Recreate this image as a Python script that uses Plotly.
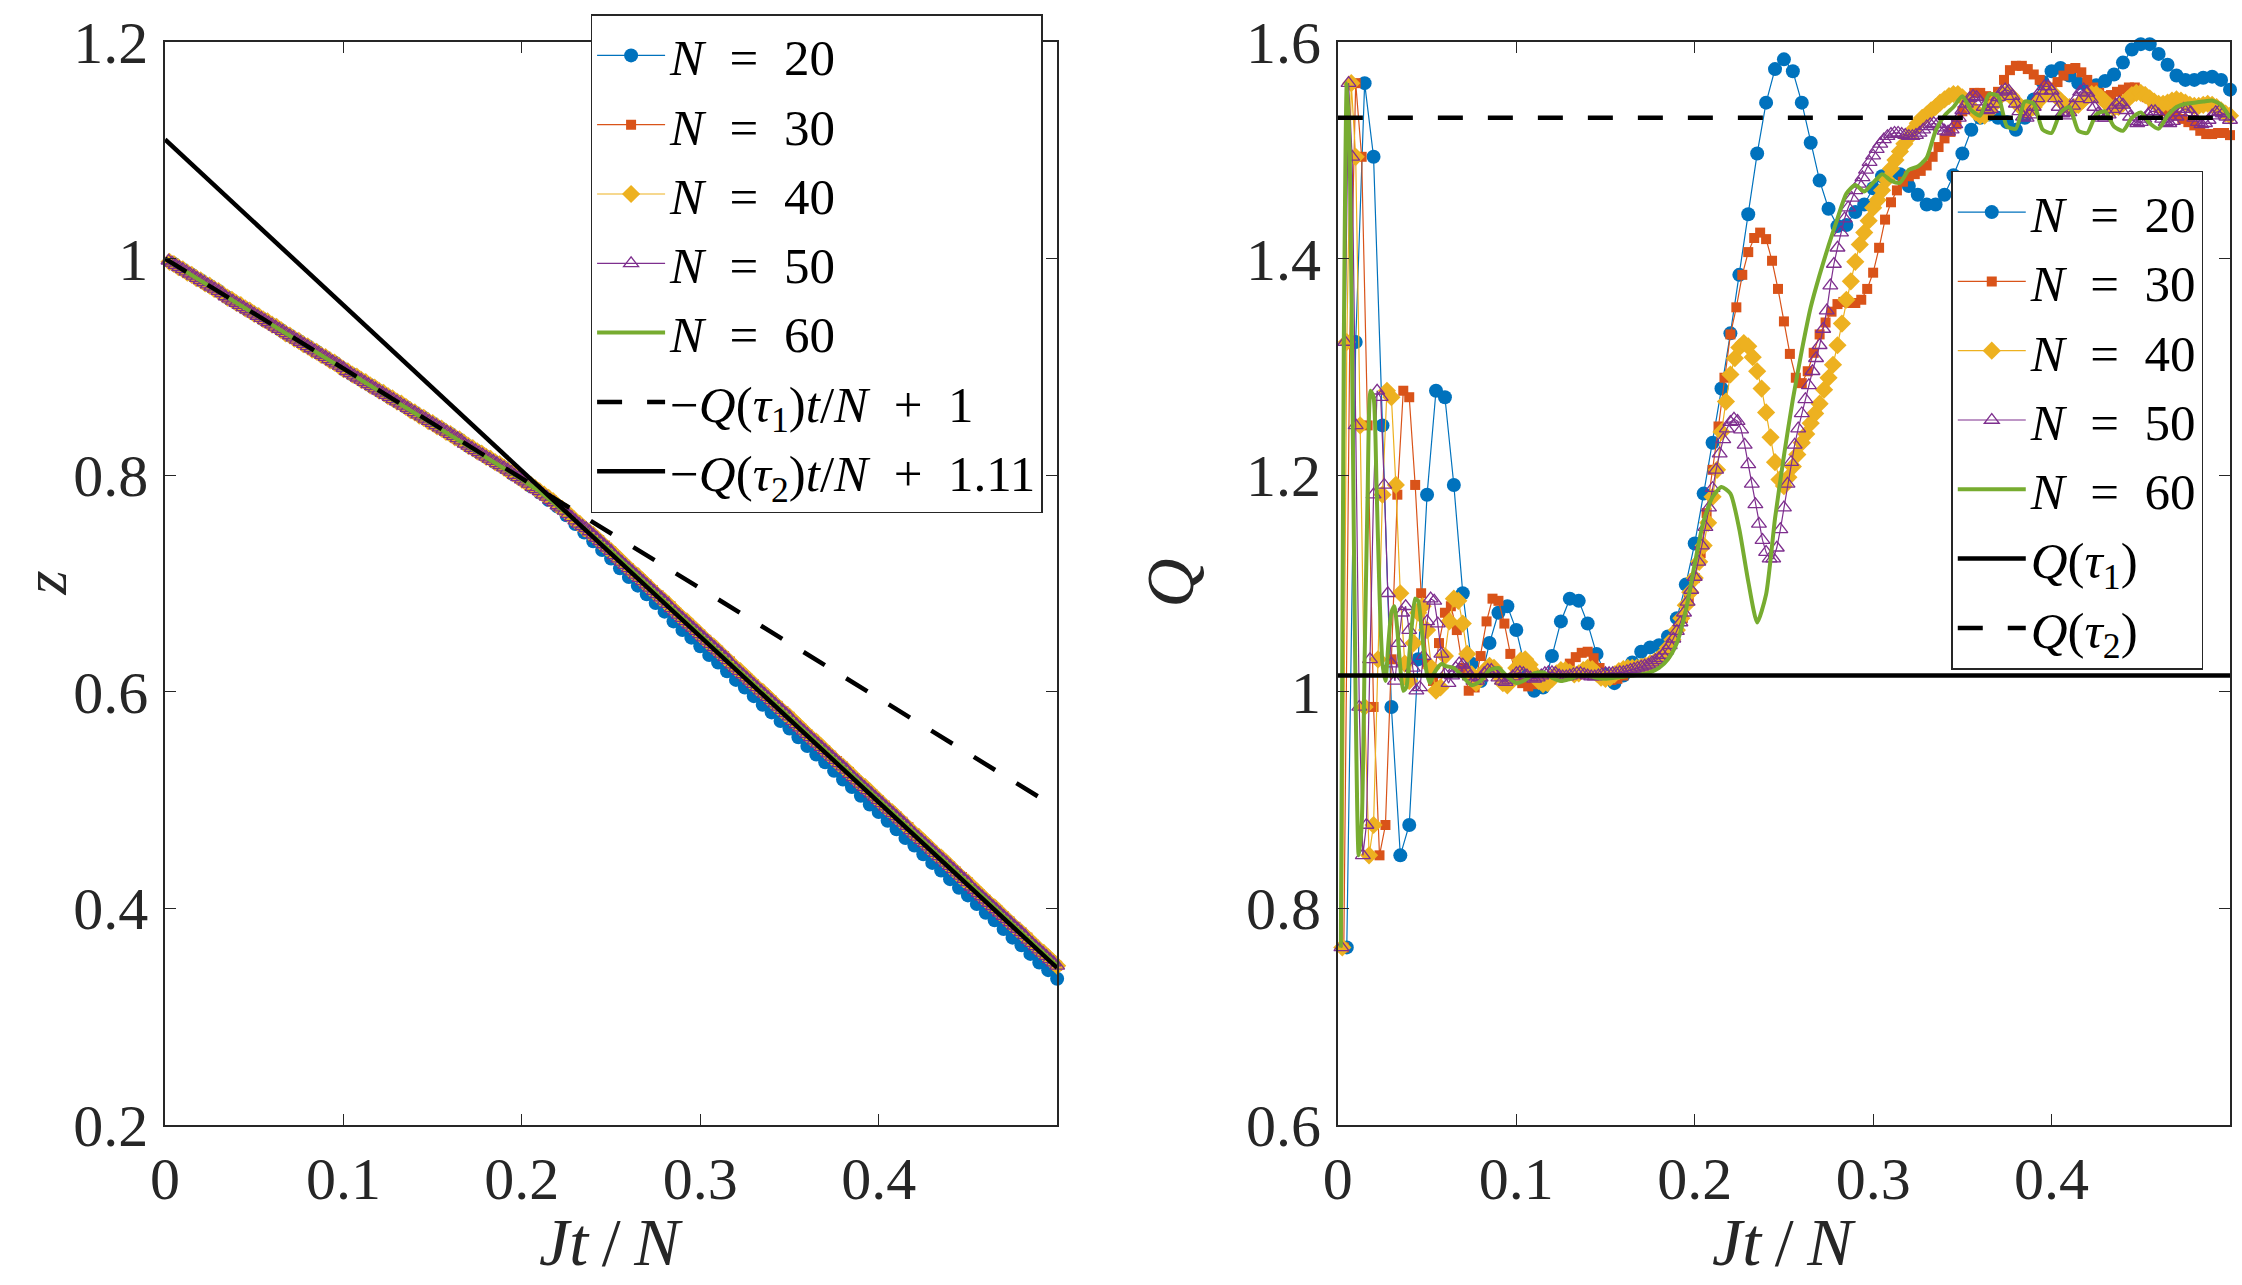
import numpy as np
import plotly.graph_objects as go

# ---------------- data ----------------
N_VALUES = [20, 30, 40, 50, 60]
X_STEP = {20: 0.005, 30: 1 / 300, 40: 0.0025, 50: 0.002}

# Q(Jt/N) for each N (right panel)
q20 = [0.764,1.323,1.562,1.494,1.246,0.986,0.849,0.877,1.030,1.182,
       1.278,1.272,1.191,1.091,1.026,1.010,1.045,1.073,1.079,1.057,
       1.022,1.001,1.004,1.033,1.065,1.086,1.084,1.063,1.035,1.016,
       1.008,1.015,1.027,1.037,1.041,1.043,1.051,1.068,1.099,1.137,
       1.183,1.230,1.280,1.331,1.385,1.441,1.497,1.544,1.575,1.584,
       1.573,1.544,1.507,1.472,1.446,1.430,1.431,1.443,1.450,1.465,
       1.476,1.478,1.478,1.467,1.459,1.450,1.450,1.459,1.477,1.497,
       1.519,1.530,1.533,1.530,1.526,1.519,1.530,1.547,1.563,1.573,
       1.576,1.569,1.562,1.559,1.560,1.564,1.570,1.581,1.593,1.598,
       1.598,1.589,1.579,1.569,1.565,1.565,1.567,1.568,1.565,1.556]

q30 = [0.764,1.323,1.562,1.494,1.246,0.986,0.849,0.877,1.030,1.182,
       1.278,1.272,1.191,1.091,1.026,1.010,1.045,1.073,1.079,1.057,
       1.022,1.001,1.004,1.033,1.065,1.086,1.084,1.063,1.035,1.016,
       1.008,1.005,1.007,1.010,1.012,1.015,1.017,1.020,1.026,1.032,
       1.036,1.037,1.031,1.022,1.014,1.011,1.012,1.015,1.019,1.022,
       1.024,1.026,1.028,1.031,1.036,1.045,1.057,1.068,1.085,1.105,
       1.128,1.165,1.205,1.245,1.290,1.330,1.355,1.385,1.406,1.419,
       1.424,1.418,1.398,1.372,1.342,1.312,1.290,1.285,1.296,1.313,
       1.330,1.341,1.351,1.358,1.360,1.359,1.359,1.362,1.372,1.387,
       1.410,1.436,1.452,1.463,1.471,1.476,1.478,1.481,1.486,1.494,
       1.503,1.511,1.517,1.524,1.536,1.547,1.553,1.553,1.550,1.549,
       1.554,1.565,1.574,1.578,1.578,1.575,1.570,1.565,1.559,1.558,
       1.563,1.569,1.575,1.576,1.572,1.565,1.558,1.553,1.550,1.551,
       1.554,1.556,1.558,1.558,1.554,1.549,1.543,1.539,1.536,1.534,
       1.532,1.529,1.526,1.523,1.518,1.515,1.515,1.516,1.516,1.514]

q40 = [0.764,1.323,1.562,1.494,1.246,0.986,0.849,0.877,1.030,1.182,
       1.278,1.272,1.191,1.091,1.026,1.010,1.045,1.073,1.079,1.057,
       1.022,1.001,1.004,1.033,1.065,1.086,1.084,1.063,1.035,1.016,
       1.008,1.015,1.020,1.024,1.022,1.015,1.008,1.006,1.012,1.022,
       1.029,1.030,1.025,1.017,1.010,1.007,1.008,1.012,1.017,1.020,
       1.020,1.018,1.016,1.017,1.020,1.022,1.021,1.017,1.013,1.012,
       1.013,1.016,1.019,1.021,1.022,1.022,1.022,1.023,1.024,1.026,
       1.028,1.031,1.035,1.041,1.048,1.057,1.068,1.080,1.092,1.105,
       1.120,1.135,1.156,1.180,1.205,1.240,1.268,1.293,1.308,1.318,
       1.322,1.319,1.309,1.296,1.280,1.258,1.235,1.212,1.196,1.190,
       1.198,1.208,1.219,1.230,1.238,1.248,1.257,1.266,1.279,1.290,
       1.302,1.320,1.340,1.362,1.379,1.397,1.413,1.424,1.435,1.447,
       1.454,1.463,1.473,1.483,1.491,1.499,1.506,1.512,1.519,1.525,
       1.530,1.533,1.537,1.540,1.544,1.547,1.550,1.552,1.552,1.549,
       1.545,1.540,1.535,1.532,1.532,1.536,1.542,1.548,1.552,1.553,
       1.550,1.545,1.540,1.537,1.537,1.540,1.545,1.550,1.553,1.553,
       1.550,1.546,1.542,1.540,1.540,1.542,1.546,1.550,1.552,1.552,
       1.549,1.545,1.541,1.539,1.540,1.543,1.547,1.551,1.553,1.553,
       1.551,1.548,1.545,1.543,1.543,1.544,1.546,1.547,1.546,1.544,
       1.542,1.541,1.541,1.542,1.543,1.542,1.540,1.537,1.534,1.532]

q50 = [0.764,1.323,1.562,1.494,1.246,0.986,0.849,0.877,1.030,1.182,
       1.278,1.272,1.191,1.091,1.026,1.010,1.045,1.073,1.079,1.057,
       1.022,1.001,1.004,1.033,1.065,1.086,1.084,1.063,1.035,1.016,
       1.008,1.015,1.022,1.026,1.025,1.020,1.014,1.010,1.010,1.013,
       1.017,1.020,1.020,1.017,1.013,1.010,1.009,1.011,1.014,1.017,
       1.018,1.017,1.015,1.013,1.012,1.013,1.015,1.017,1.018,1.018,
       1.017,1.015,1.014,1.014,1.015,1.016,1.017,1.017,1.016,1.015,
       1.014,1.014,1.015,1.016,1.017,1.017,1.017,1.017,1.018,1.018,
       1.019,1.020,1.021,1.022,1.023,1.024,1.025,1.027,1.029,1.031,
       1.034,1.038,1.043,1.049,1.056,1.064,1.073,1.083,1.094,1.106,
       1.120,1.135,1.152,1.170,1.188,1.205,1.220,1.233,1.243,1.249,
       1.252,1.250,1.242,1.228,1.210,1.192,1.173,1.155,1.140,1.129,
       1.123,1.123,1.133,1.150,1.170,1.192,1.212,1.228,1.243,1.257,
       1.270,1.283,1.296,1.308,1.320,1.335,1.352,1.375,1.395,1.410,
       1.424,1.437,1.447,1.456,1.463,1.469,1.475,1.482,1.489,1.495,
       1.501,1.506,1.510,1.513,1.515,1.516,1.516,1.515,1.514,1.513,
       1.513,1.514,1.516,1.519,1.522,1.524,1.525,1.524,1.521,1.518,
       1.517,1.519,1.524,1.530,1.537,1.543,1.548,1.550,1.549,1.545,
       1.540,1.537,1.538,1.543,1.549,1.554,1.556,1.555,1.550,1.543,
       1.536,1.531,1.530,1.533,1.540,1.548,1.555,1.559,1.559,1.555,
       1.548,1.540,1.534,1.532,1.535,1.541,1.548,1.554,1.556,1.553,
       1.547,1.540,1.534,1.530,1.530,1.533,1.538,1.542,1.544,1.542,
       1.537,1.531,1.527,1.525,1.526,1.529,1.533,1.536,1.536,1.533,
       1.529,1.526,1.525,1.527,1.531,1.535,1.538,1.538,1.535,1.530,
       1.526,1.524,1.525,1.528,1.532,1.535,1.536,1.534,1.531,1.528]

# N = 60 is a plain line: read at 1/600 steps early, 0.005 steps later
x60_early = list(np.arange(1, 37) / 600)
q60_early = [0.764,1.323,1.562,1.494,1.246,0.986,0.849,0.877,1.030,1.182,
             1.278,1.272,1.191,1.091,1.026,1.010,1.045,1.073,1.079,1.057,
             1.022,1.001,1.004,1.033,1.065,1.086,1.084,1.063,1.035,1.016,
             1.008,1.015,1.020,1.024,1.026,1.024]
x60_late = list(np.arange(13, 101) * 0.005)
q60_late = [1.022,1.014,1.006,1.010,1.020,1.022,1.014,1.008,1.011,1.017,
            1.018,1.013,1.010,1.012,1.015,1.015,1.013,1.012,1.013,1.014,
            1.015,1.016,1.018,1.022,1.030,1.045,1.075,1.118,1.158,1.180,
            1.189,1.183,1.150,1.102,1.064,1.090,1.160,1.218,1.270,1.315,
            1.355,1.385,1.412,1.437,1.460,1.468,1.462,1.470,1.478,1.472,
            1.470,1.482,1.485,1.493,1.518,1.532,1.540,1.550,1.537,1.532,
            1.552,1.550,1.522,1.520,1.545,1.543,1.519,1.516,1.535,1.540,
            1.518,1.516,1.533,1.536,1.522,1.518,1.530,1.535,1.525,1.520,
            1.532,1.540,1.543,1.544,1.545,1.546,1.542,1.530]

# z(Jt/N) for each N (left panel)
z20 = [0.995,0.990,0.985,0.980,0.975,0.970,0.964,0.959,0.954,0.949,
       0.944,0.939,0.934,0.929,0.924,0.919,0.914,0.909,0.904,0.898,
       0.893,0.888,0.883,0.878,0.873,0.868,0.863,0.858,0.853,0.848,
       0.843,0.838,0.833,0.827,0.822,0.817,0.812,0.807,0.801,0.796,
       0.790,0.784,0.777,0.771,0.763,0.755,0.747,0.739,0.731,0.723,
       0.714,0.706,0.698,0.690,0.682,0.674,0.665,0.657,0.650,0.642,
       0.634,0.627,0.619,0.611,0.604,0.596,0.588,0.581,0.573,0.566,
       0.558,0.550,0.542,0.535,0.527,0.519,0.512,0.504,0.496,0.489,
       0.481,0.473,0.465,0.458,0.450,0.442,0.435,0.427,0.419,0.412,
       0.404,0.396,0.389,0.381,0.373,0.366,0.358,0.350,0.343,0.335]

z30 = [0.997,0.993,0.990,0.986,0.983,0.980,0.976,0.973,0.970,0.966,
       0.963,0.959,0.956,0.953,0.949,0.946,0.942,0.939,0.936,0.932,
       0.929,0.926,0.922,0.919,0.915,0.912,0.909,0.905,0.902,0.899,
       0.895,0.892,0.888,0.885,0.882,0.878,0.875,0.871,0.868,0.865,
       0.861,0.858,0.855,0.851,0.848,0.844,0.841,0.838,0.834,0.831,
       0.827,0.824,0.821,0.817,0.814,0.811,0.807,0.803,0.800,0.796,
       0.792,0.789,0.785,0.781,0.777,0.772,0.768,0.763,0.758,0.753,
       0.748,0.744,0.740,0.735,0.730,0.724,0.719,0.714,0.709,0.704,
       0.699,0.694,0.689,0.684,0.679,0.673,0.668,0.663,0.658,0.653,
       0.648,0.643,0.638,0.633,0.628,0.622,0.617,0.612,0.607,0.602,
       0.597,0.592,0.587,0.582,0.577,0.571,0.566,0.561,0.556,0.551,
       0.546,0.541,0.536,0.531,0.526,0.520,0.515,0.510,0.505,0.500,
       0.495,0.490,0.485,0.480,0.475,0.469,0.464,0.459,0.454,0.449,
       0.444,0.439,0.434,0.429,0.424,0.418,0.413,0.408,0.403,0.398,
       0.393,0.388,0.383,0.378,0.373,0.367,0.362,0.357,0.352,0.347]

z40 = [0.997,0.995,0.992,0.990,0.987,0.985,0.982,0.980,0.977,0.975,
       0.972,0.970,0.967,0.964,0.962,0.959,0.957,0.954,0.952,0.949,
       0.947,0.944,0.942,0.939,0.937,0.934,0.931,0.929,0.926,0.924,
       0.921,0.919,0.916,0.914,0.911,0.909,0.906,0.904,0.901,0.898,
       0.896,0.893,0.891,0.888,0.886,0.883,0.881,0.878,0.876,0.873,
       0.871,0.868,0.866,0.863,0.860,0.858,0.855,0.853,0.850,0.848,
       0.845,0.843,0.840,0.838,0.835,0.833,0.830,0.827,0.825,0.822,
       0.820,0.817,0.815,0.812,0.810,0.807,0.804,0.802,0.799,0.796,
       0.793,0.791,0.788,0.785,0.782,0.779,0.776,0.772,0.769,0.766,
       0.762,0.758,0.755,0.751,0.748,0.745,0.741,0.737,0.733,0.730,
       0.726,0.722,0.718,0.714,0.710,0.707,0.703,0.699,0.695,0.691,
       0.687,0.684,0.680,0.676,0.672,0.668,0.665,0.661,0.657,0.653,
       0.649,0.645,0.642,0.638,0.634,0.630,0.626,0.622,0.619,0.615,
       0.611,0.607,0.603,0.600,0.596,0.592,0.588,0.584,0.580,0.577,
       0.573,0.569,0.565,0.561,0.557,0.554,0.550,0.546,0.542,0.538,
       0.534,0.531,0.527,0.523,0.519,0.515,0.512,0.508,0.504,0.500,
       0.496,0.492,0.489,0.485,0.481,0.477,0.473,0.469,0.466,0.462,
       0.458,0.454,0.450,0.447,0.443,0.439,0.435,0.431,0.427,0.424,
       0.420,0.416,0.412,0.408,0.404,0.401,0.397,0.393,0.389,0.385,
       0.381,0.378,0.374,0.370,0.366,0.362,0.359,0.355,0.351,0.347]

z50 = [0.998,0.996,0.994,0.992,0.990,0.988,0.986,0.984,0.982,0.980,
       0.978,0.976,0.974,0.972,0.970,0.968,0.965,0.963,0.961,0.959,
       0.957,0.955,0.953,0.951,0.949,0.947,0.945,0.943,0.941,0.939,
       0.937,0.935,0.933,0.931,0.929,0.927,0.925,0.923,0.921,0.919,
       0.917,0.915,0.913,0.911,0.909,0.907,0.905,0.903,0.901,0.899,
       0.896,0.894,0.892,0.890,0.888,0.886,0.884,0.882,0.880,0.878,
       0.876,0.874,0.872,0.870,0.868,0.866,0.864,0.862,0.860,0.858,
       0.856,0.854,0.852,0.850,0.848,0.846,0.844,0.842,0.840,0.838,
       0.836,0.834,0.832,0.829,0.827,0.825,0.823,0.821,0.819,0.817,
       0.815,0.813,0.811,0.809,0.807,0.805,0.803,0.800,0.798,0.796,
       0.794,0.792,0.789,0.787,0.785,0.782,0.780,0.777,0.775,0.772,
       0.770,0.767,0.764,0.761,0.758,0.755,0.753,0.751,0.748,0.745,
       0.742,0.739,0.736,0.733,0.730,0.726,0.723,0.720,0.717,0.714,
       0.711,0.708,0.705,0.702,0.699,0.696,0.693,0.690,0.687,0.684,
       0.681,0.677,0.674,0.671,0.668,0.665,0.662,0.659,0.656,0.653,
       0.650,0.647,0.644,0.641,0.638,0.635,0.632,0.629,0.625,0.622,
       0.619,0.616,0.613,0.610,0.607,0.604,0.601,0.598,0.595,0.592,
       0.589,0.586,0.583,0.580,0.577,0.573,0.570,0.567,0.564,0.561,
       0.558,0.555,0.552,0.549,0.546,0.543,0.540,0.537,0.534,0.531,
       0.528,0.524,0.521,0.518,0.515,0.512,0.509,0.506,0.503,0.500,
       0.497,0.494,0.491,0.488,0.485,0.482,0.479,0.476,0.472,0.469,
       0.466,0.463,0.460,0.457,0.454,0.451,0.448,0.445,0.442,0.439,
       0.436,0.433,0.430,0.427,0.424,0.420,0.417,0.414,0.411,0.408,
       0.405,0.402,0.399,0.396,0.393,0.390,0.387,0.384,0.381,0.378,
       0.375,0.371,0.368,0.365,0.362,0.359,0.356,0.353,0.350,0.347]

x60_z = [0, 0.05, 0.1, 0.15, 0.19, 0.2, 0.21, 0.22, 0.23, 0.24, 0.25,
         0.3, 0.35, 0.4, 0.45, 0.5]
z60 = [1.0, 0.949, 0.899, 0.848, 0.807, 0.796, 0.785, 0.772, 0.758, 0.744,
       0.730, 0.653, 0.577, 0.500, 0.424, 0.347]

# reference levels
Q_TAU1 = 1.015
Q_TAU2 = 1.53
Z_ICPT1 = 1.0
Z_ICPT2 = 1.11
X_LINE = [0.0, 0.5]

X_TICKS = [0, 0.1, 0.2, 0.3, 0.4]
X_TICKTEXT = ["0", "0.1", "0.2", "0.3", "0.4"]
ZY_TICKS = [0.2, 0.4, 0.6, 0.8, 1.0, 1.2]
ZY_TICKTEXT = ["0.2", "0.4", "0.6", "0.8", "1", "1.2"]
QY_TICKS = [0.6, 0.8, 1.0, 1.2, 1.4, 1.6]
QY_TICKTEXT = ["0.6", "0.8", "1", "1.2", "1.4", "1.6"]

# ---------------- styling ----------------
COLORS = {20: "#0072BD", 30: "#D95319", 40: "#EDB120", 50: "#7E2F8E", 60: "#77AC30"}
SYMBOLS = {20: "circle", 30: "square", 40: "diamond", 50: "triangle-up-open"}
SIZES = {20: 14, 30: 10, 40: 14, 50: 13}
FONT = "Liberation Serif, DejaVu Serif, Times New Roman, serif"
AXC = "#262626"

W, H = 2242, 1285
ML, MR, MT, MB = 165, 10, 33, 160
PW = W - ML - MR
PH = H - MT - MB

def px(xpix):
    return (xpix - ML) / PW

def py(ypix):
    return (H - MB - ypix) / PH

SP = "\u2002"

def label(n):
    return f"<i>N</i>{SP}={SP}{n}"

fig = go.Figure()

data_q = {20: q20, 30: q30, 40: q40, 50: q50}
data_z = {20: z20, 30: z30, 40: z40, 50: z50}

# ---- left panel ----
for n in [20, 30, 40, 50]:
    ys = data_z[n]
    xs = np.arange(1, len(ys) + 1) * X_STEP[n]
    fig.add_trace(go.Scatter(
        x=xs, y=ys, mode="lines+markers", name=label(n), legend="legend",
        line=dict(color=COLORS[n], width=1.2),
        marker=dict(symbol=SYMBOLS[n], size=SIZES[n], color=COLORS[n],
                    line=dict(color=COLORS[n], width=1.3 if n == 50 else 0)),
        xaxis="x", yaxis="y", cliponaxis=False))
fig.add_trace(go.Scatter(
    x=x60_z, y=z60, mode="lines", name=label(60), legend="legend",
    line=dict(color=COLORS[60], width=4), xaxis="x", yaxis="y"))
fig.add_trace(go.Scatter(
    x=X_LINE, y=[Z_ICPT1 - Q_TAU1 * v for v in X_LINE], mode="lines",
    name=f"\u2212<i>Q</i>(<i>\u03c4</i><sub>1</sub>)<i>t</i>/<i>N</i>{SP}+{SP}1",
    legend="legend", line=dict(color="black", width=4.5, dash="25px,25px"),
    xaxis="x", yaxis="y"))
fig.add_trace(go.Scatter(
    x=X_LINE, y=[Z_ICPT2 - Q_TAU2 * v for v in X_LINE], mode="lines",
    name=f"\u2212<i>Q</i>(<i>\u03c4</i><sub>2</sub>)<i>t</i>/<i>N</i>{SP}+{SP}1.11",
    legend="legend", line=dict(color="black", width=4.5),
    xaxis="x", yaxis="y"))

# ---- right panel ----
for n in [20, 30, 40, 50]:
    ys = data_q[n]
    xs = np.arange(1, len(ys) + 1) * X_STEP[n]
    fig.add_trace(go.Scatter(
        x=xs, y=ys, mode="lines+markers", name=label(n), legend="legend2",
        line=dict(color=COLORS[n], width=1.2),
        marker=dict(symbol=SYMBOLS[n], size=SIZES[n], color=COLORS[n],
                    line=dict(color=COLORS[n], width=1.3 if n == 50 else 0)),
        xaxis="x2", yaxis="y2", cliponaxis=False))
fig.add_trace(go.Scatter(
    x=x60_early + x60_late, y=q60_early + q60_late, mode="lines", name=label(60),
    legend="legend2", line=dict(color=COLORS[60], width=4, shape="spline", smoothing=0.6),
    xaxis="x2", yaxis="y2"))
fig.add_trace(go.Scatter(
    x=X_LINE, y=[Q_TAU1, Q_TAU1], mode="lines",
    name="<i>Q</i>(<i>\u03c4</i><sub>1</sub>)", legend="legend2",
    line=dict(color="black", width=4.5), xaxis="x2", yaxis="y2"))
fig.add_trace(go.Scatter(
    x=X_LINE, y=[Q_TAU2, Q_TAU2], mode="lines",
    name="<i>Q</i>(<i>\u03c4</i><sub>2</sub>)", legend="legend2",
    line=dict(color="black", width=4.5, dash="25px,25px"), xaxis="x2", yaxis="y2"))

def axis(rng, tv, tt, domain, anchor, standoff):
    return dict(range=rng, tickvals=tv, ticktext=tt, domain=domain, anchor=anchor,
                ticks="inside", ticklen=11, tickwidth=1.3, tickcolor=AXC,
                showline=True, linecolor=AXC, linewidth=1.5, mirror="allticks",
                showgrid=False, zeroline=False, ticklabelstandoff=standoff,
                tickfont=dict(family=FONT, size=60, color=AXC))

legend_font = dict(family=FONT, size=51, color="black")
title_font = dict(family=FONT, size=68, color=AXC)
ytitle_font = dict(family=FONT, size=62, color=AXC)

fig.update_layout(
    width=W, height=H,
    margin=dict(l=ML, r=MR, t=MT, b=MB),
    paper_bgcolor="white", plot_bgcolor="white",
    xaxis=axis([0, 0.5], X_TICKS, X_TICKTEXT, [0, px(1058)], "y", 0),
    yaxis=axis([0.2, 1.2], ZY_TICKS, ZY_TICKTEXT, [0, 1], "x", 3),
    xaxis2=axis([0, 0.5], X_TICKS, X_TICKTEXT, [px(1339), 1], "y2", 0),
    yaxis2=axis([0.6, 1.6], QY_TICKS, QY_TICKTEXT, [0, 1], "x2", 3),
    legend=dict(x=px(591), y=py(5), xanchor="left", yanchor="top",
                font=legend_font, bgcolor="white", bordercolor=AXC,
                borderwidth=1.5, tracegroupgap=0, itemwidth=68),
    legend2=dict(x=px(1953), y=py(163), xanchor="left", yanchor="top",
                 font=legend_font, bgcolor="white", bordercolor=AXC,
                 borderwidth=1.5, tracegroupgap=0, itemwidth=68),
    showlegend=True,
    annotations=[
        dict(text="<i>z</i>", x=px(44), y=0.5, xref="paper", yref="paper",
             xanchor="center", yanchor="middle",
             textangle=-90, showarrow=False, font=ytitle_font),
        dict(text="<i>Q</i>", x=px(1170), y=0.5, xref="paper", yref="paper",
             xanchor="center", yanchor="middle",
             textangle=-90, showarrow=False, font=title_font),
        dict(text="<i>Jt</i>\u2009/\u2009<i>N</i>", x=px(611), y=py(1243),
             xref="paper", yref="paper", xanchor="center", yanchor="middle",
             showarrow=False, font=title_font),
        dict(text="<i>Jt</i>\u2009/\u2009<i>N</i>", x=px(1786), y=py(1243),
             xref="paper", yref="paper", xanchor="center", yanchor="middle",
             showarrow=False, font=title_font),
    ],
)

fig.write_html("out.html")
